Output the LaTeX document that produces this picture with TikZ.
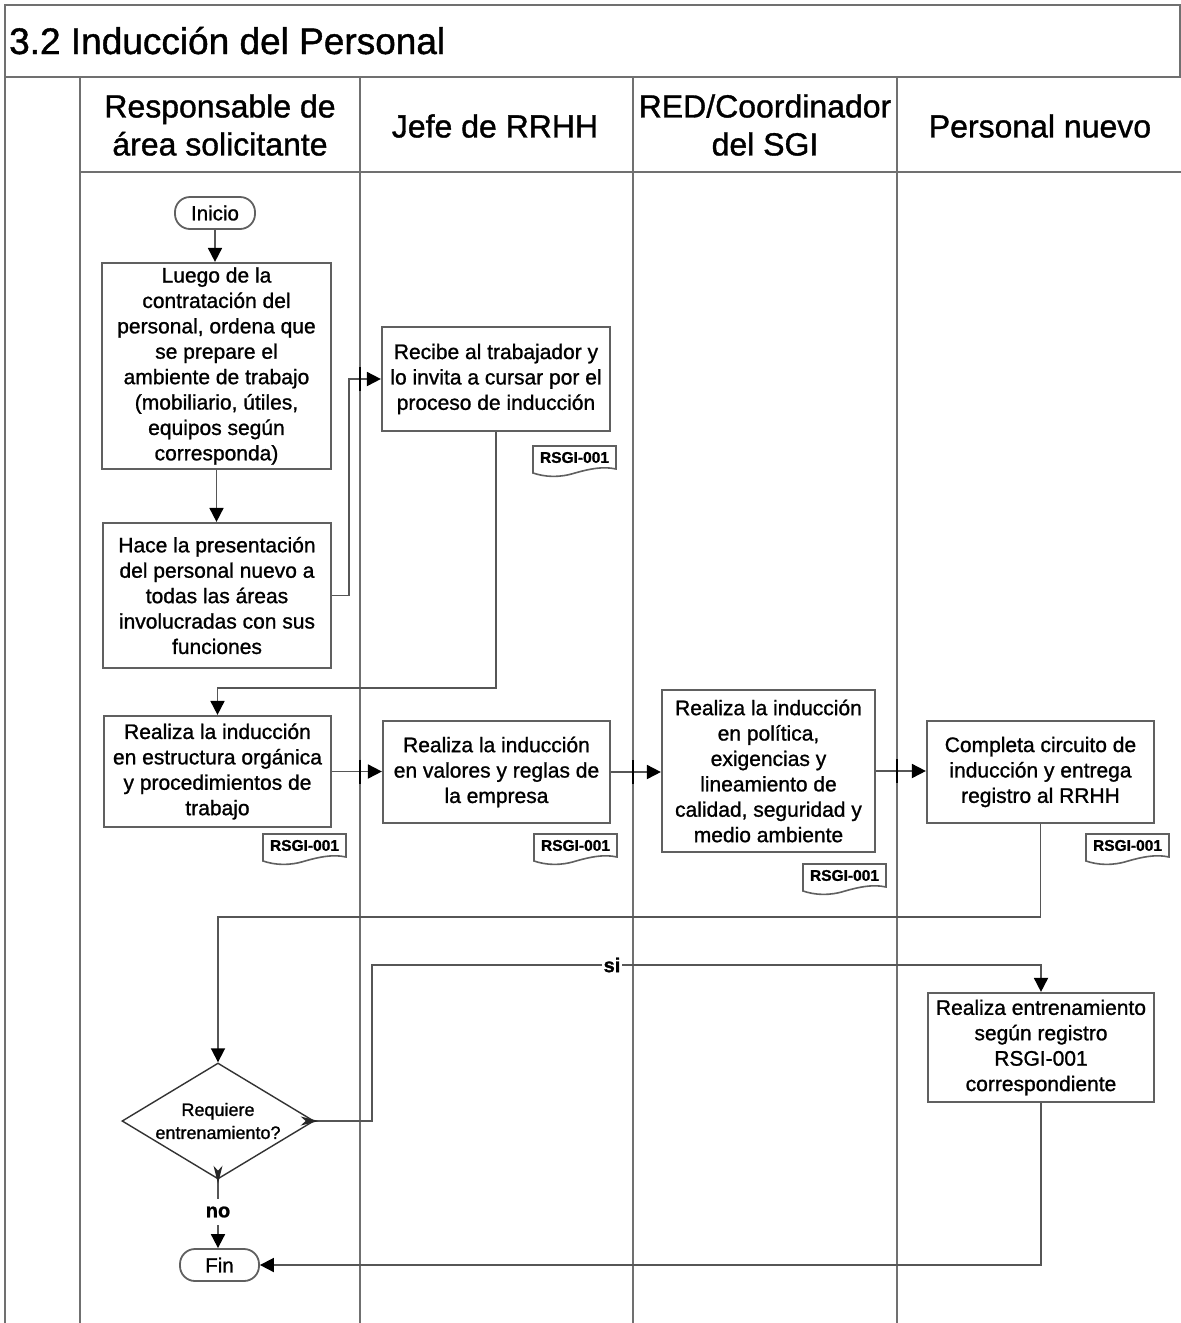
\documentclass[tikz,border=0pt]{standalone}
\usepackage{fontspec}
\setmainfont{Liberation Sans}[FakeBold=1.1]
\usetikzlibrary{arrows.meta,shapes.geometric,calc}
\definecolor{frame}{HTML}{707070}
\definecolor{edge}{HTML}{606060}
\definecolor{wire}{HTML}{565656}
\newcommand\fs[2]{\fontsize{#1}{#2}\selectfont}
% record document symbol: name, top-left x, top-left y
\newcommand\regdoc[3]{%
  \draw[docline] (#2,#3) -- (#2+83,#3) -- (#2+83,#3+23)
    .. controls (#2+70,#3+20) and (#2+56,#3+23) .. (#2+42,#3+27)
    .. controls (#2+26,#3+32) and (#2+12,#3+31) .. (#2,#3+27) -- cycle;
  \node[doctext] (#1) at (#2+41.5,#3+11.5) {RSGI-001};
}
\begin{document}
\begin{tikzpicture}[x=1pt,y=-1pt,
  lane/.style={draw=frame, line width=1.8pt},
  procbox/.style={draw=edge, line width=2.2pt, fill=white, align=center, inner sep=0pt, font=\fs{21}{25.4}},
  termbox/.style={draw=edge, line width=1.8pt, rounded corners=15pt, fill=white, inner sep=0pt,
    minimum width=80pt, minimum height=32pt, font=\fs{20.5}{24}},
  decbox/.style={diamond, shape aspect=1.66, draw=black!80, line width=1.4pt, fill=white, inner sep=0pt,
    minimum width=192pt, minimum height=116pt, align=center, font=\fs{18}{23}},
  conn/.style={draw=wire, line width=1.8pt, -{Triangle[length=14pt,width=14pt,color=black]}},
  doctext/.style={font=\bfseries\fs{15.5}{18}, inner sep=0pt},
  docline/.style={draw=edge, line width=1.6pt, fill=white},
  jump/.style={draw=black, line width=1.5pt},
  lbl/.style={fill=white, inner sep=1.5pt, font=\bfseries\fs{20}{24}},
  head/.style={align=center, font=\fs{32}{38}},
]
\useasboundingbox (0,0) rectangle (1181,1323);
\fill[white] (0,0) rectangle (1181,1323);

% frame, title band and swimlanes
\draw[lane] (5,1323) -- (5,5) -- (1181,5);
\draw[lane] (1180,5) -- (1180,77);
\draw[lane] (5,77) -- (1181,77);
\draw[lane] (80,77) -- (80,1323);
\draw[lane] (80,172) -- (1181,172);
\coordinate (L1) at (360,0);
\coordinate (L2) at (633,0);
\coordinate (L3) at (897,0);
\draw[lane] (360,77) -- (360,1323);
\draw[lane] (633,77) -- (633,1323);
\draw[lane] (897,77) -- (897,1323);

\node[anchor=base west, font=\fs{37}{44}, inner sep=0pt] (title) at (9,54) {3.2 Inducción del Personal};
\node[head] (h1) at (220,125) {Responsable de\\área solicitante};
\node[head] (h2) at (495,126) {Jefe de RRHH};
\node[head] (h3) at (765,125) {RED/Coordinador\\del SGI};
\node[head] (h4) at (1040,126) {Personal nuevo};

% process steps
\node[termbox] (ini) at (215,213) {Inicio};
\node[procbox, minimum width=229pt, minimum height=206pt] (b1) at (216.5,366)
  {Luego de la\\contratación del\\personal, ordena que\\se prepare el\\ambiente de trabajo\\(mobiliario, útiles,\\equipos según\\corresponda)};
\node[procbox, minimum width=228pt, minimum height=145pt] (b2) at (217,595.5)
  {Hace la presentación\\del personal nuevo a\\todas las áreas\\involucradas con sus\\funciones};
\node[procbox, minimum width=228pt, minimum height=104pt] (b3) at (496,379)
  {Recibe al trabajador y\\lo invita a cursar por el\\proceso de inducción};
\node[procbox, minimum width=227pt, minimum height=111pt] (b4) at (217.5,771.5)
  {Realiza la inducción\\en estructura orgánica\\y procedimientos de\\trabajo};
\node[procbox, minimum width=227pt, minimum height=102pt] (b5) at (496.5,772)
  {Realiza la inducción\\en valores y reglas de\\la empresa};
\node[procbox, minimum width=213pt, minimum height=162pt] (b6) at (768.5,771)
  {Realiza la inducción\\en política,\\exigencias y\\lineamiento de\\calidad, seguridad y\\medio ambiente};
\node[procbox, minimum width=227pt, minimum height=102pt] (b7) at (1040.5,772)
  {Completa circuito de\\inducción y entrega\\registro al RRHH};
\node[procbox, minimum width=226pt, minimum height=109pt] (b8) at (1041,1047.5)
  {Realiza entrenamiento\\según registro\\RSGI-001\\correspondiente};
\node[decbox] (dec) at (218,1121) {Requiere\\entrenamiento?};
\node[termbox, minimum width=79pt] (fin) at (219.5,1265) {Fin};

% records
\regdoc{d3}{533}{446}
\regdoc{d4}{263}{834}
\regdoc{d5}{534}{834}
\regdoc{d6}{803}{864}
\regdoc{d7}{1086}{834}

% routing levels
\coordinate (xa) at (349,0);
\coordinate (xb) at (372,0);
\coordinate (ya) at (0,688);
\coordinate (yb) at (0,917);
\coordinate (yc) at (0,965);

% connectors
\draw[conn] (ini.south) -- (ini.south |- b1.north);
\draw[conn] (b1.south) -- (b1.south |- b2.north);
\draw[conn] (b2.east) -- (xa |- b2.east) -- (xa |- b3.west) -- (b3.west);
\draw[conn] (b3.south) -- (b3.south |- ya) -- (b4.north |- ya) -- (b4.north);
\draw[conn] (b4.east) -- (b4.east -| b5.west);
\draw[conn] (b5.east) -- (b5.east -| b6.west);
\draw[conn] (b6.east) -- (b6.east -| b7.west);
\draw[conn] (b7.south) -- (b7.south |- yb) -- (dec.north |- yb) -- (dec.north);
\draw[conn] (dec.east) -- (xb |- dec.east) -- (xb |- yc) -- (b8.north |- yc) -- (b8.north);
\draw[conn] (dec.south) -- (dec.south |- fin.north);
\draw[conn] (b8.south) -- (b8.south |- fin.east) -- (fin.east);

% decision outlet tips
\fill[black!85, shift={(dec.east)}] (-14,-4.5) -- (4,0) -- (-14,4.5) -- (-9,0) -- cycle;
\fill[black!85, shift={(dec.south)}] (-4.5,-14) -- (0,4) -- (4.5,-14) -- (0,-9) -- cycle;

% lane crossing marks
\draw[jump] ($(L1 |- b3.west)+(0,-12)$) -- ($(L1 |- b3.west)+(0,12)$);
\draw[jump] ($(L1 |- b4.east)+(0,-12)$) -- ($(L1 |- b4.east)+(0,12)$);
\draw[jump] ($(L2 |- b5.east)+(0,-12)$) -- ($(L2 |- b5.east)+(0,12)$);
\draw[jump] ($(L3 |- b6.east)+(0,-12)$) -- ($(L3 |- b6.east)+(0,12)$);

% branch labels
\node[lbl] (si) at (612,965) {si};
\node[lbl, inner ysep=8pt] (no) at (218,1212) {no};
\end{tikzpicture}
\end{document}
